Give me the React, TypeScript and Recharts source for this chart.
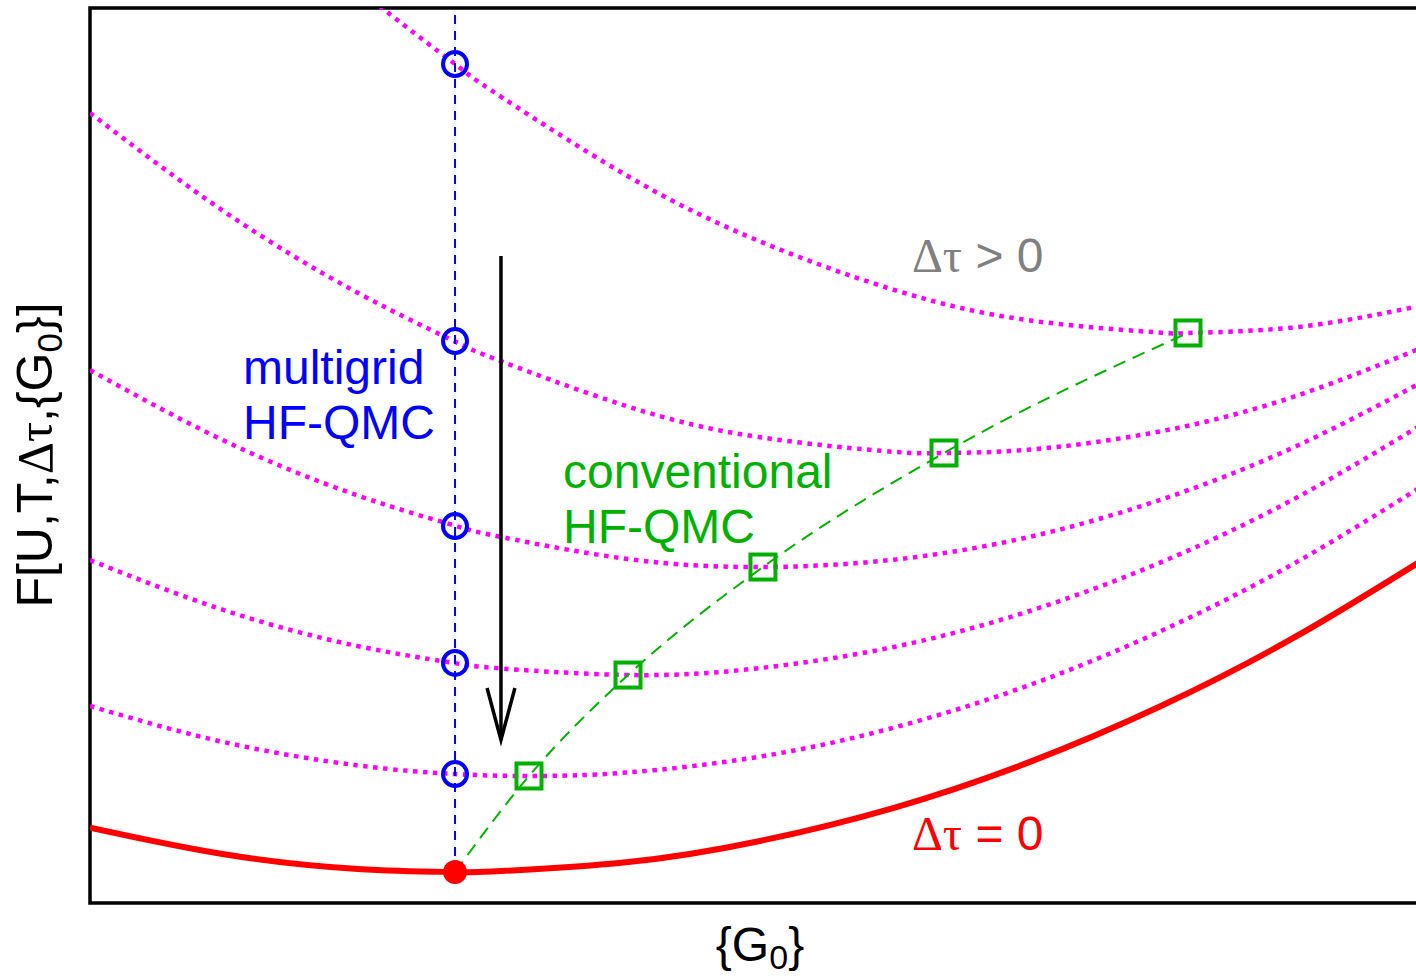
import React from "react";
import { ComposedChart, Line, Scatter, XAxis, YAxis, Customized } from "recharts";

// Free-energy functional, exact (Δτ = 0)
const exactCurve = [
  { x: 0, y: 0.842 }, { x: 1, y: 0.545 }, { x: 2, y: 0.381 }, { x: 2.724, y: 0.346 },
  { x: 3, y: 0.352 }, { x: 4, y: 0.455 }, { x: 5, y: 0.693 }, { x: 6, y: 1.064 },
  { x: 7, y: 1.568 }, { x: 8, y: 2.206 }, { x: 9, y: 2.978 }, { x: 10, y: 3.884 },
];

// Discretized functionals (Δτ > 0), from largest to smallest Δτ
const dtCurve1 = [
  { x: 0, y: 13.1 }, { x: 1, y: 11.56 }, { x: 2, y: 10.218 }, { x: 2.724, y: 9.374 },
  { x: 3, y: 9.075 }, { x: 4, y: 8.133 }, { x: 5, y: 7.392 }, { x: 6, y: 6.851 },
  { x: 7, y: 6.512 }, { x: 8, y: 6.372 }, { x: 8.194, y: 6.369 }, { x: 9, y: 6.434 }, { x: 10, y: 6.696 },
];
const dtCurve2 = [
  { x: 0, y: 8.827 }, { x: 1, y: 7.727 }, { x: 2, y: 6.816 }, { x: 2.724, y: 6.273 },
  { x: 3, y: 6.092 }, { x: 4, y: 5.554 }, { x: 5, y: 5.204 }, { x: 6, y: 5.041 },
  { x: 6.373, y: 5.028 }, { x: 7, y: 5.064 }, { x: 8, y: 5.273 }, { x: 9, y: 5.665 }, { x: 10, y: 6.242 },
];
const dtCurve3 = [
  { x: 0, y: 5.955 }, { x: 1, y: 5.166 }, { x: 2, y: 4.552 }, { x: 2.724, y: 4.216 },
  { x: 3, y: 4.111 }, { x: 4, y: 3.846 }, { x: 5.022, y: 3.754 }, { x: 6, y: 3.836 },
  { x: 7, y: 4.087 }, { x: 8, y: 4.511 }, { x: 9, y: 5.103 }, { x: 10, y: 5.867 },
];
const dtCurve4 = [
  { x: 0, y: 3.831 }, { x: 1, y: 3.272 }, { x: 2, y: 2.87 }, { x: 2.724, y: 2.68 },
  { x: 3, y: 2.629 }, { x: 4.015, y: 2.547 }, { x: 5, y: 2.625 }, { x: 6, y: 2.861 },
  { x: 7, y: 3.257 }, { x: 8, y: 3.812 }, { x: 9, y: 4.526 }, { x: 10, y: 5.401 },
];
const dtCurve5 = [
  { x: 0, y: 2.201 }, { x: 1, y: 1.797 }, { x: 2, y: 1.537 }, { x: 2.724, y: 1.441 },
  { x: 3.276, y: 1.419 }, { x: 4, y: 1.457 }, { x: 5, y: 1.636 }, { x: 6, y: 1.96 },
  { x: 7, y: 2.429 }, { x: 8, y: 3.044 }, { x: 9, y: 3.806 }, { x: 10, y: 4.712 },
];
const dtCurves = [dtCurve1, dtCurve2, dtCurve3, dtCurve4, dtCurve5];

// Exact minimum
const exactMinimum = [{ x: 2.724, y: 0.346 }];

// Multigrid HF-QMC points (fixed G0)
const multigridPoints = [
  { x: 2.724, y: 9.374 }, { x: 2.724, y: 6.279 }, { x: 2.724, y: 4.212 },
  { x: 2.724, y: 2.682 }, { x: 2.724, y: 1.441 },
];
const multigridGuide = [{ x: 2.724, y: 0.346 }, { x: 2.724, y: 10 }];

// Conventional HF-QMC points (minima of each Δτ functional)
const conventionalPoints = [
  { x: 3.276, y: 1.419 }, { x: 4.015, y: 2.547 }, { x: 5.022, y: 3.754 },
  { x: 6.373, y: 5.028 }, { x: 8.194, y: 6.369 },
];
const conventionalPath = [{ x: 2.724, y: 0.346 }, ...conventionalPoints];

// Arrow (Δτ -> 0)
const arrowShaft = [{ x: 3.067, y: 7.229 }, { x: 3.067, y: 1.821 }];
const arrowHead = [{ x: 2.963, y: 2.402 }, { x: 3.067, y: 1.821 }, { x: 3.171, y: 2.402 }];

const SANS = "'Liberation Sans', Arial, Helvetica, sans-serif";
const SERIF = "'Liberation Serif', 'Times New Roman', serif";
const MAGENTA = "#FF00FF";
const GREEN = "#00B000";
const BLUE = "#0000FF";
const RED = "#FF0000";

const CircleShape = (p: any) => (
  <circle cx={p.cx} cy={p.cy} r={12} fill="none" stroke={BLUE} strokeWidth={4} />
);
const SquareShape = (p: any) => (
  <rect x={p.cx - 12.5} y={p.cy - 12.5} width={25} height={25} fill="none" stroke={GREEN} strokeWidth={4} />
);
const DotShape = (p: any) => <circle cx={p.cx} cy={p.cy} r={12} fill={RED} />;

const Frame = () => (
  <path d="M1430,8 L90,8 L90,903 L1430,903" fill="none" stroke="#000" strokeWidth={3.5} />
);

const Annotations = () => (
  <g fontFamily={SANS}>
    <text x={243} y={384} fontSize={48} fill={BLUE}>multigrid</text>
    <text x={243} y={439} fontSize={48} fill={BLUE}>HF-QMC</text>
    <text x={563} y={488} fontSize={48} fill={GREEN}>conventional</text>
    <text x={563} y={543} fontSize={48} fill={GREEN}>HF-QMC</text>
    <text x={912} y={272} fontSize={48} fill="#808080">
      <tspan fontFamily={SERIF}>Δτ</tspan> &gt; 0
    </text>
    <text x={912} y={850} fontSize={48} fill={RED}>
      <tspan fontFamily={SERIF}>Δτ</tspan> = 0
    </text>
    <text x={760} y={961} fontSize={48} fill="#000" textAnchor="middle">
      {"{G"}<tspan fontSize={34} dy={8}>0</tspan><tspan dy={-8}>{"}"}</tspan>
    </text>
    <text x={52} y={455} fontSize={50} fill="#000" textAnchor="middle" transform="rotate(-90, 52, 455)">
      F[U,T,<tspan fontFamily={SERIF}>Δτ</tspan>,{"{G"}<tspan fontSize={35} dy={10}>0</tspan><tspan dy={-10}>{"}]"}</tspan>
    </text>
  </g>
);

export default function App() {
  return (
    <div style={{ position: "absolute", left: 0, top: 0, width: 1416, height: 978, overflow: "hidden", background: "#fff" }}>
      <ComposedChart width={1440} height={978} margin={{ top: 8, right: 10, bottom: 75, left: 90 }}>
        <XAxis type="number" dataKey="x" domain={[0, 10]} allowDataOverflow hide />
        <YAxis type="number" dataKey="y" domain={[0, 10]} allowDataOverflow hide />
        {dtCurves.map((c, i) => (
          <Line
            key={"dt" + i}
            data={c}
            dataKey="y"
            type="natural"
            stroke={MAGENTA}
            strokeWidth={4.5}
            strokeDasharray="4.5 5.5"
            dot={false}
            activeDot={false}
            isAnimationActive={false}
          />
        ))}
        <Line data={exactCurve} dataKey="y" type="natural" stroke={RED} strokeWidth={6} dot={false} activeDot={false} isAnimationActive={false} />
        <Line data={multigridGuide} dataKey="y" type="linear" stroke={BLUE} strokeWidth={2} strokeDasharray="9 7" dot={false} activeDot={false} isAnimationActive={false} />
        <Line data={conventionalPath} dataKey="y" type="monotone" stroke={GREEN} strokeWidth={2} strokeDasharray="13 8" dot={false} activeDot={false} isAnimationActive={false} />
        <Line data={arrowShaft} dataKey="y" type="linear" stroke="#000" strokeWidth={3.5} dot={false} activeDot={false} isAnimationActive={false} />
        <Line data={arrowHead} dataKey="y" type="linear" stroke="#000" strokeWidth={3.5} dot={false} activeDot={false} isAnimationActive={false} />
        <Scatter data={multigridPoints} dataKey="y" shape={CircleShape} isAnimationActive={false} />
        <Scatter data={conventionalPoints} dataKey="y" shape={SquareShape} isAnimationActive={false} />
        <Scatter data={exactMinimum} dataKey="y" shape={DotShape} isAnimationActive={false} />
        <Customized component={Frame} />
        <Customized component={Annotations} />
      </ComposedChart>
    </div>
  );
}
